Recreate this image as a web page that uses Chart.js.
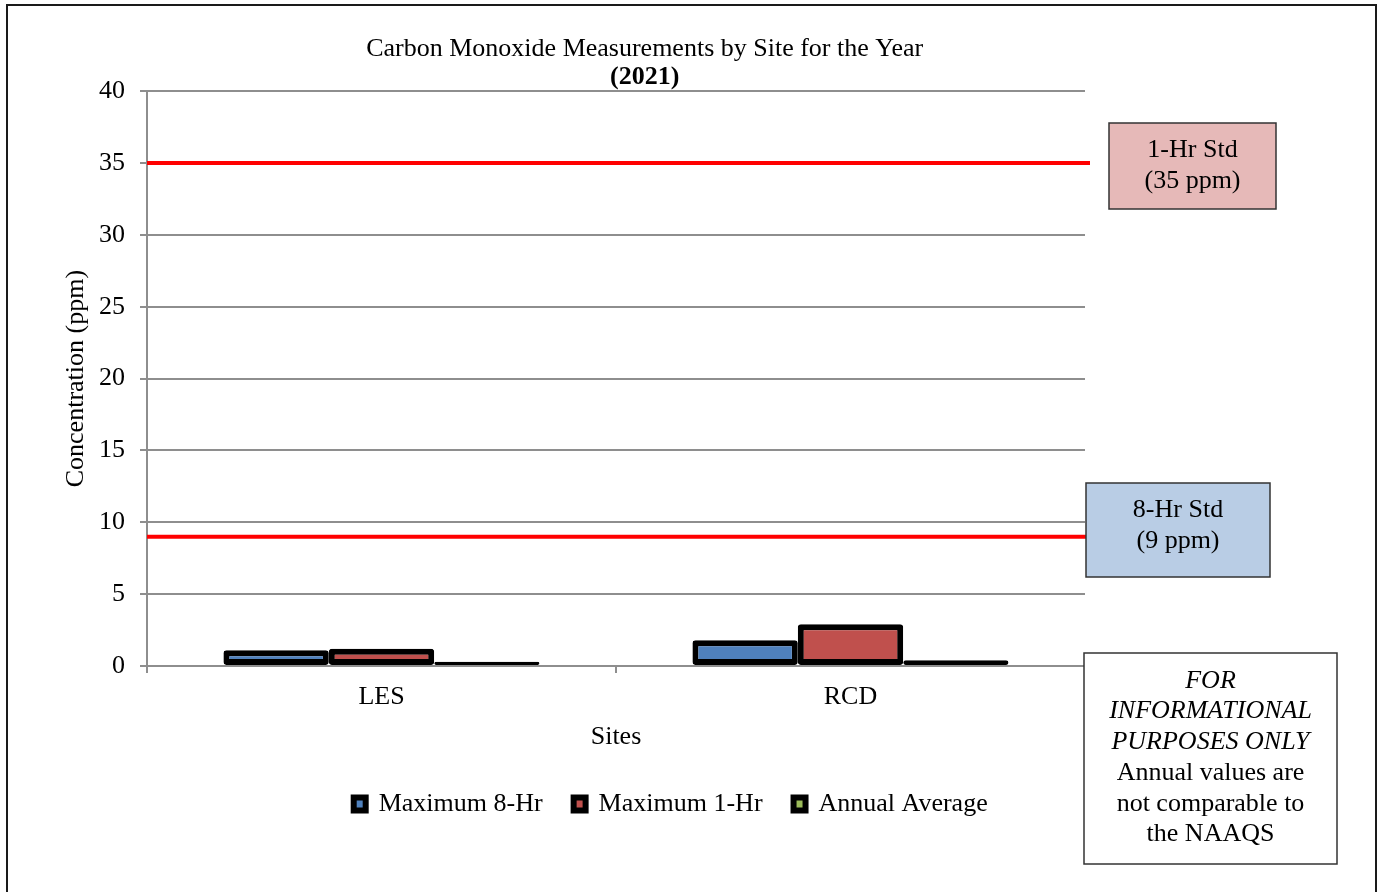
<!DOCTYPE html>
<html>
<head>
<meta charset="utf-8">
<script src="https://cdn.jsdelivr.net/npm/chart.js@4/dist/chart.umd.min.js"></script>
<style>
  html, body { margin: 0; padding: 0; background: #fff; }
  #wrap { position: relative; width: 1380px; height: 892px; }
</style>
</head>
<body>
<div id="wrap"><canvas id="coChart" width="1380" height="892"></canvas></div>
<script>
// chart data
var sites = ['LES', 'RCD'];
var max8Hr = [1.1, 1.8];
var max1Hr = [1.2, 2.9];
var annualAvg = [0.3, 0.4];
var seriesNames = ['Maximum 8-Hr', 'Maximum 1-Hr', 'Annual Average'];
var seriesColors = ['#4F81BD', '#C0504D', '#9BBB59'];
var standards = [35, 9];
var yTicksMax = 40;
var yTicksStep = 5;

var serif = "'Liberation Serif', 'Times New Roman', serif";

// frame round the whole chart
var framePlugin = {
  id: 'frame',
  beforeDraw: function (chart) {
    var ctx = chart.ctx;
    ctx.save();
    ctx.fillStyle = '#fff';
    ctx.fillRect(0, 0, chart.width, chart.height);
    ctx.strokeStyle = '#1a1a1a';
    ctx.lineWidth = 2;
    ctx.strokeRect(7, 5, 1369, 900);
    ctx.restore();
  }
};

// red standard lines at 35 and 9 ppm
var standardsPlugin = {
  id: 'standards',
  beforeDatasetsDraw: function (chart) {
    var ctx = chart.ctx, y = chart.scales.y, area = chart.chartArea;
    ctx.save();
    ctx.strokeStyle = '#FF0000';
    ctx.lineWidth = 4;
    standards.forEach(function (v) {
      var py = y.getPixelForValue(v);
      ctx.beginPath();
      ctx.moveTo(area.left, py);
      ctx.lineTo(area.right + 5, py);
      ctx.stroke();
    });
    ctx.restore();
  }
};

// move legend and titles to where Excel had them
var shiftPlugin = {
  id: 'shift',
  afterLayout: function (chart) {
    chart.legend.left += 98;
    chart.legend.right += 98;
    chart.titleBlock.left += 72;
    chart.titleBlock.right += 72;
    var sub = chart.boxes.find(function (b) { return b !== chart.titleBlock && b.options && b.options.text === '(2021)'; });
    if (sub) { sub.left += 72; sub.right += 72; }
  }
};

function textBox(ctx, x, y, w, h, fill, lines) {
  ctx.fillStyle = fill;
  ctx.fillRect(x, y, w, h);
  ctx.strokeStyle = '#333';
  ctx.lineWidth = 1.5;
  ctx.strokeRect(x, y, w, h);
  ctx.fillStyle = '#000';
  ctx.textAlign = 'center';
  ctx.textBaseline = 'middle';
  lines.forEach(function (l) {
    ctx.font = (l.italic ? 'italic ' : '') + '26px ' + serif;
    ctx.fillText(l.text, x + w / 2, l.y);
  });
}

var boxesPlugin = {
  id: 'boxes',
  afterDraw: function (chart) {
    var ctx = chart.ctx;
    ctx.save();
    textBox(ctx, 1109, 123, 167, 86, '#E6B9B8', [
      {text: '1-Hr Std', y: 150}, {text: '(35 ppm)', y: 181}
    ]);
    textBox(ctx, 1086, 483, 184, 94, '#B9CDE5', [
      {text: '8-Hr Std', y: 510}, {text: '(9 ppm)', y: 541}
    ]);
    textBox(ctx, 1084, 653, 253, 211, '#FFFFFF', [
      {text: 'FOR', y: 681, italic: true},
      {text: 'INFORMATIONAL', y: 711, italic: true},
      {text: 'PURPOSES ONLY', y: 742, italic: true},
      {text: 'Annual values are', y: 773},
      {text: 'not comparable to', y: 804},
      {text: 'the NAAQS', y: 834}
    ]);
    ctx.restore();
  }
};

var seriesData = [max8Hr, max1Hr, annualAvg];
var datasets = [];
for (let i = 0; i < seriesNames.length; i++) {
  datasets.push({
    label: seriesNames[i],
    data: seriesData[i],
    backgroundColor: seriesColors[i],
    borderColor: '#000',
    borderWidth: 6,
    borderRadius: 3,
    borderSkipped: false,
    categoryPercentage: 0.674,
    barPercentage: 1.0
  });
}

var gridGray = '#8e8e8e';

var coChart = new Chart(document.getElementById('coChart').getContext('2d'), {
  type: 'bar',
  data: { labels: sites, datasets: datasets },
  plugins: [framePlugin, standardsPlugin, shiftPlugin, boxesPlugin],
  options: {
    responsive: false,
    animation: false,
    layout: { padding: { left: 60.4, right: 295, top: 0, bottom: 65 } },
    plugins: {
      title: {
        display: true,
        text: 'Carbon Monoxide Measurements by Site for the Year',
        color: '#000',
        font: { family: serif, size: 26, weight: 'normal', lineHeight: 1.15 },
        padding: { top: 34, bottom: 0 }
      },
      subtitle: {
        display: true,
        text: '(2021)',
        color: '#000',
        font: { family: serif, size: 26, weight: 'bold', lineHeight: 1.05 },
        padding: { top: 0, bottom: 0 }
      },
      legend: {
        position: 'bottom',
        labels: {
          color: '#000',
          font: { family: serif, size: 26 },
          boxWidth: 12,
          boxHeight: 13,
          padding: 31
        }
      },
      tooltip: { enabled: false }
    },
    scales: {
      x: {
        grid: {
          drawOnChartArea: false,
          drawTicks: true,
          tickLength: 7,
          color: gridGray,
          lineWidth: 2
        },
        border: { display: true, color: gridGray, width: 2 },
        ticks: {
          color: '#000',
          font: { family: serif, size: 26 },
          padding: 8.4
        },
        title: {
          display: true,
          text: 'Sites',
          color: '#000',
          font: { family: serif, size: 26 },
          padding: { top: 0.4, bottom: 7.4 }
        }
      },
      y: {
        min: 0,
        max: yTicksMax,
        grid: {
          color: gridGray,
          lineWidth: 2,
          tickLength: 7
        },
        border: { display: true, color: gridGray, width: 2 },
        ticks: {
          stepSize: yTicksStep,
          color: '#000',
          font: { family: serif, size: 26 },
          padding: 15
        },
        title: {
          display: true,
          text: 'Concentration (ppm)',
          color: '#000',
          font: { family: serif, size: 26 },
          padding: { top: 0, bottom: -7.6 }
        }
      }
    }
  }
});
</script>
</body>
</html>
